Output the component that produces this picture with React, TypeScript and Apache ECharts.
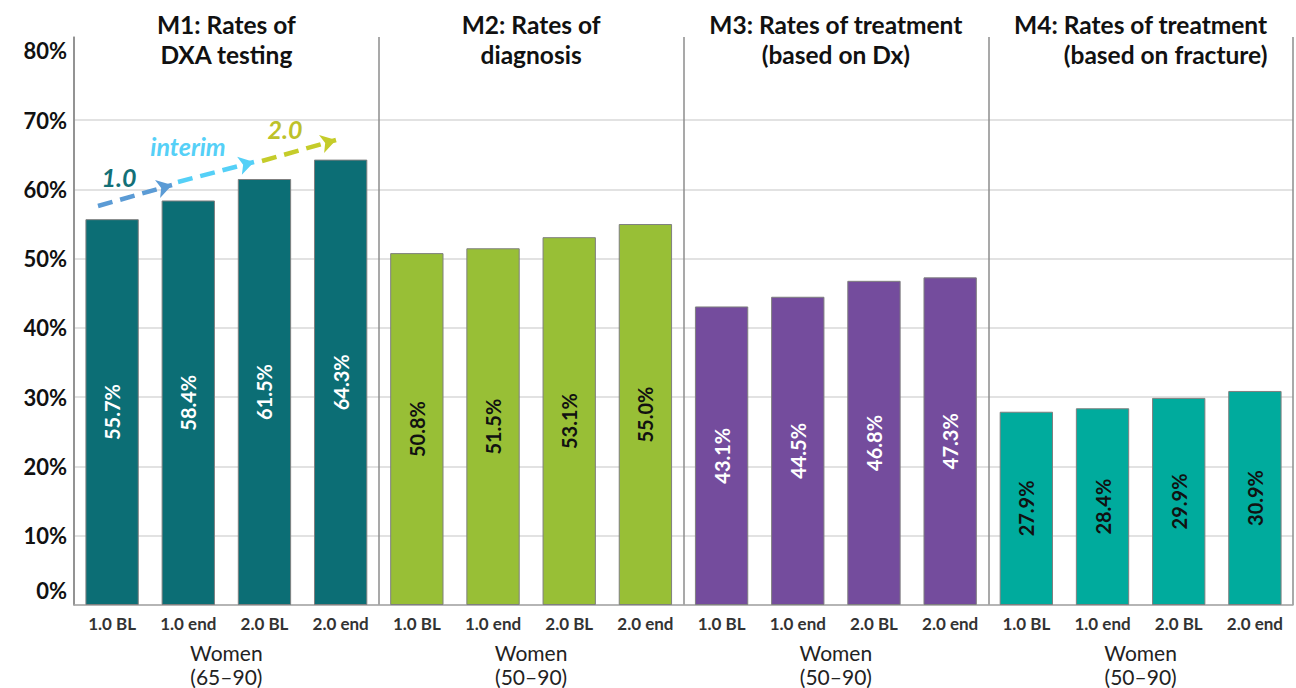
import React, { useEffect, useRef } from 'react';
import * as echarts from 'echarts';

const categories = ['1.0 BL', '1.0 end', '2.0 BL', '2.0 end'];
const panelTitles = [
  'M1: Rates of\nDXA testing',
  'M2: Rates of\ndiagnosis',
  'M3: Rates of treatment\n(based on Dx)',
  'M4: Rates of treatment\n(based on fracture)',
];
const groupLabels = ['Women\n(65–90)', 'Women\n(50–90)', 'Women\n(50–90)', 'Women\n(50–90)'];
const m1Values = [55.7, 58.4, 61.5, 64.3];
const m2Values = [50.8, 51.5, 53.1, 55.0];
const m3Values = [43.1, 44.5, 46.8, 47.3];
const m4Values = [27.9, 28.4, 29.9, 30.9];
const panelColors = ['#0C6E75', '#98BF36', '#744C9D', '#00AB9D'];
const labelColors = ['#ffffff', '#111111', '#ffffff', '#111111'];
const arrowLabels = ['1.0', 'interim', '2.0'];
const arrowColors = ['#5B9BD5', '#55D0F7', '#C5CC2A'];
const arrowLabelColors = ['#137077', '#55D0F7', '#BDC12A'];

const FONT = 'Lato, Carlito, Calibri, "Noto Sans", sans-serif';

export default function App() {
  const ref = useRef<HTMLDivElement>(null);

  useEffect(() => {
    if (!ref.current) return;
    const chart = echarts.init(ref.current, undefined, { renderer: 'svg' });
    const panels = [m1Values, m2Values, m3Values, m4Values];
    const xKeys = panels.flatMap((_, p) => categories.map((c) => `${p}|${c}`));
    const barData = panels.flatMap((vals, p) =>
      vals.map((v) => ({
        value: v,
        itemStyle: { color: panelColors[p] },
        label: { color: labelColors[p] },
      }))
    );

    // arrows (annotation, pixel positions)
    const arrowSegs = [
      [[98, 206], [172, 185]],
      [[178, 182], [254, 162]],
      [[262, 161], [336, 140]],
    ];
    const arrowLabelPos = [[119, 177], [188, 146], [285, 129]];

    const option: any = {
      animation: false,
      backgroundColor: '#ffffff',
      grid: { left: 74, right: 3, top: 37, bottom: 75 },
      xAxis: [
        {
          type: 'category',
          position: 'bottom',
          data: xKeys,
          axisLine: { show: true, lineStyle: { color: '#a6a6a6', width: 1.5 } },
          axisTick: { show: false },
          splitLine: { show: false },
          axisLabel: {
            interval: 0,
            margin: 10,
            fontFamily: FONT,
            fontWeight: 'bold',
            fontSize: 17,
            color: '#333333',
            formatter: (v: string) => v.split('|')[1],
          },
        },
        {
          type: 'category',
          position: 'bottom',
          data: groupLabels.map((g, i) => `${i}|${g}`),
          axisLine: { show: false },
          axisTick: { show: false },
          splitLine: { show: true, lineStyle: { color: '#8c8c8c', width: 1.5 } },
          axisLabel: {
            interval: 0,
            margin: 35,
            fontFamily: FONT,
            fontSize: 21,
            lineHeight: 24,
            color: '#222222',
            formatter: (v: string) => v.split('|')[1],
          },
        },
        {
          type: 'category',
          position: 'top',
          data: panelTitles.map((t, i) => `${i}|${t}`),
          axisLine: { show: false },
          axisTick: { show: false },
          splitLine: { show: false },
          axisLabel: {
            interval: 0,
            margin: 28,
            verticalAlign: 'top',
            formatter: (v: string, idx: number) => {
              const lines = v.split('|')[1].split('\n');
              if (idx === 3) return `{t|${lines[0]}}\n{r|${lines[1]}}`;
              return `{t|${lines[0]}}\n{t|${lines[1]}}`;
            },
            rich: {
              t: { fontFamily: FONT, fontWeight: 'bold', fontSize: 24.5, lineHeight: 30, color: '#111111' },
              r: { fontFamily: FONT, fontWeight: 'bold', fontSize: 24.5, lineHeight: 30, color: '#111111', align: 'right' },
            },
          },
        },
      ],
      yAxis: {
        type: 'value',
        min: 0,
        max: 82,
        interval: 10,
        axisLine: { show: true, lineStyle: { color: '#8c8c8c', width: 1.5 } },
        axisTick: { show: false },
        splitLine: {
          show: true,
          lineStyle: {
            color: ['#d9d9d9', '#d9d9d9', '#d9d9d9', '#d9d9d9', '#d9d9d9', '#d9d9d9', '#d9d9d9', '#d9d9d9', 'rgba(0,0,0,0)', 'rgba(0,0,0,0)'],
            width: 1.5,
          },
        },
        axisLabel: {
          margin: 7,
          fontFamily: FONT,
          fontWeight: 'bold',
          fontSize: 22,
          color: '#111111',
          formatter: (v: number) => {
            if (v > 80) return '';
            if (v === 0) return '{z|0%}';
            return `${v}%`;
          },
          rich: {
            z: { fontFamily: FONT, fontWeight: 'bold', fontSize: 22, color: '#111111', padding: [0, 0, 30, 0] },
          },
        },
      },
      series: [
        {
          type: 'bar',
          xAxisIndex: 0,
          yAxisIndex: 0,
          barWidth: '70%',
          data: barData,
          itemStyle: { borderColor: '#7f7f7f', borderWidth: 1 },
          label: {
            show: true,
            position: 'inside',
            rotate: 90,
            fontFamily: FONT,
            fontWeight: 'bold',
            fontSize: 20,
            formatter: (p: any) => `${Number(p.value).toFixed(1)}%`,
          },
          markLine: {
            silent: true,
            symbol: ['none', 'arrow'],
            symbolSize: [14, 15],
            label: { show: false },
            data: arrowSegs.map((seg, i) => [
              { x: seg[0][0], y: seg[0][1], lineStyle: { color: arrowColors[i], type: [15, 8], width: 4.5 } },
              { x: seg[1][0], y: seg[1][1] },
            ]),
          },
        },
      ],
      graphic: arrowLabels.map((t, i) => ({
        type: 'text',
        x: arrowLabelPos[i][0],
        y: arrowLabelPos[i][1],
        style: {
          text: t,
          fill: arrowLabelColors[i],
          font: `italic bold 25px ${FONT}`,
          align: 'center',
          verticalAlign: 'middle',
        },
      })),
    };
    chart.setOption(option);
    return () => chart.dispose();
  }, []);

  return <div ref={ref} style={{ position: 'fixed', left: 0, top: 0, width: 1296, height: 688 }} />;
}
